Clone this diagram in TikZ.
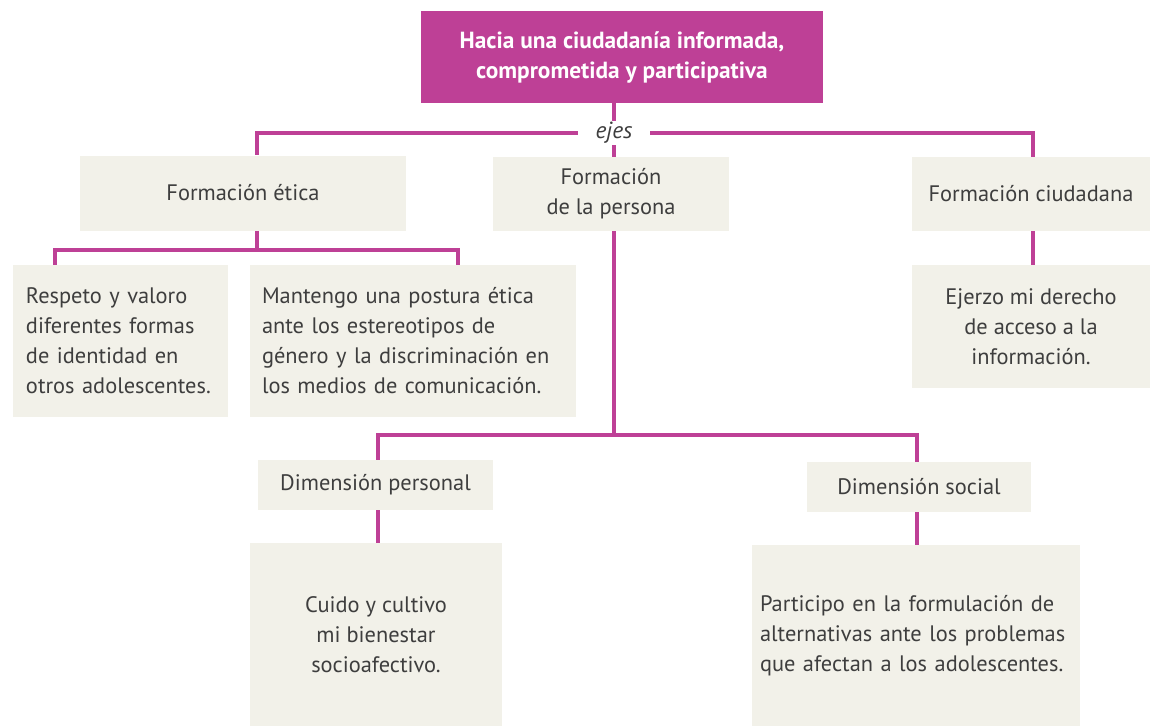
\documentclass[tikz,border=0pt]{standalone}
\usepackage{fontspec}
\setmainfont{PT Sans}
\definecolor{mag}{RGB}{190,64,150}
\definecolor{boxfill}{RGB}{242,241,233}
\definecolor{txt}{RGB}{62,62,62}
\begin{document}
\begin{tikzpicture}[x=0.75pt,y=-0.75pt,
  box/.style={fill=boxfill, draw=none, inner sep=0pt, text=txt,
    font=\fontsize{16.8}{22.5}\selectfont, align=center},
  topbox/.style={fill=mag, draw=none, inner sep=0pt, text=white,
    font=\fontsize{17.5}{22.5}\selectfont\bfseries, align=center},
  link/.style={draw=mag, line width=2.3pt}]
\useasboundingbox (0,0) rectangle (1156,726);

% top
\node[topbox, minimum width=402*0.75pt, minimum height=92*0.75pt] (top) at (622,57) {Hacia una ciudadanía informada,\\comprometida y participativa};
\node[inner sep=0pt, minimum width=72*0.75pt, minimum height=24*0.75pt, text=txt, font=\fontsize{17.5}{17}\selectfont\itshape] (ejes) at (614,133) {ejes};

% level 1
\node[box, minimum width=326*0.75pt, minimum height=75*0.75pt] (fe) at (243,193) {Formación ética};
\node[box, minimum width=236*0.75pt, minimum height=74*0.75pt] (fp) at (611,194) {Formación\\de la persona};
\node[box, minimum width=238*0.75pt, minimum height=74*0.75pt] (fc) at (1031,194) {Formación ciudadana};

% level 2 under ética
\node[box, minimum width=215*0.75pt, minimum height=152*0.75pt, text width=201*0.75pt, align=left] (re) at (120.5,341) {\hspace*{4.5pt}Respeto y valoro\\\hspace*{4.5pt}diferentes formas\\\hspace*{4.5pt}de identidad en\\\hspace*{4.5pt}otros adolescentes.};
\node[box, minimum width=326*0.75pt, minimum height=152*0.75pt, text width=310*0.75pt, align=left] (ma) at (413,341) {\hspace*{3pt}Mantengo una postura ética\\\hspace*{3pt}ante los estereotipos de\\\hspace*{3pt}género y la discriminación en\\\hspace*{3pt}los medios de comunicación.};

% under ciudadana
\node[box, minimum width=238*0.75pt, minimum height=123*0.75pt] (ej) at (1031,326.5) {Ejerzo mi derecho\\de acceso a la\\información.};

% dimensions
\node[box, minimum width=235*0.75pt, minimum height=50*0.75pt] (dp) at (375.5,485) {Dimensión personal};
\node[box, minimum width=224*0.75pt, minimum height=50*0.75pt] (ds) at (919,487) {Dimensión social};

\node[box, minimum width=252*0.75pt, minimum height=183*0.75pt] (cu) at (376,634.5) {Cuido y cultivo\\mi bienestar\\socioafectivo.};
\node[box, minimum width=328*0.75pt, minimum height=181*0.75pt, text width=320*0.75pt, align=left] (pa) at (916,635.5) {\hspace*{3pt}Participo en la formulación de\\\hspace*{3pt}alternativas ante los problemas\\\hspace*{3pt}que afectan a los adolescentes.};

% helper coordinates
\coordinate (jl) at (257,133);
\coordinate (jr) at (1033,133);
\coordinate (eb) at (257,250);
\coordinate (el) at (55,250);
\coordinate (er) at (458,250);
\coordinate (pb) at (614,435);
\coordinate (pl) at (378,435);
\coordinate (pr) at (917,435);

% connectors
\draw[link] (top.south -| ejes) -- (ejes.north);
\draw[link] (ejes.south) -- (ejes |- fp.north);
\draw[link] (ejes.west) -- (jl) -- (jl |- fe.north);
\draw[link] (ejes.east) -- (jr) -- (jr |- fc.north);

\draw[link] (eb |- fe.south) -- (eb);
\draw[link] (el |- re.north) -- (el) -- (er) -- (er |- ma.north);

\draw[link] (jr |- fc.south) -- (jr |- ej.north);

\draw[link] (pb |- fp.south) -- (pb);
\draw[link] (pl |- dp.north) -- (pl) -- (pr) -- (pr |- ds.north);
\draw[link] (pl |- dp.south) -- (pl |- cu.north);
\draw[link] (pr |- ds.south) -- (pr |- pa.north);
\end{tikzpicture}
\end{document}
